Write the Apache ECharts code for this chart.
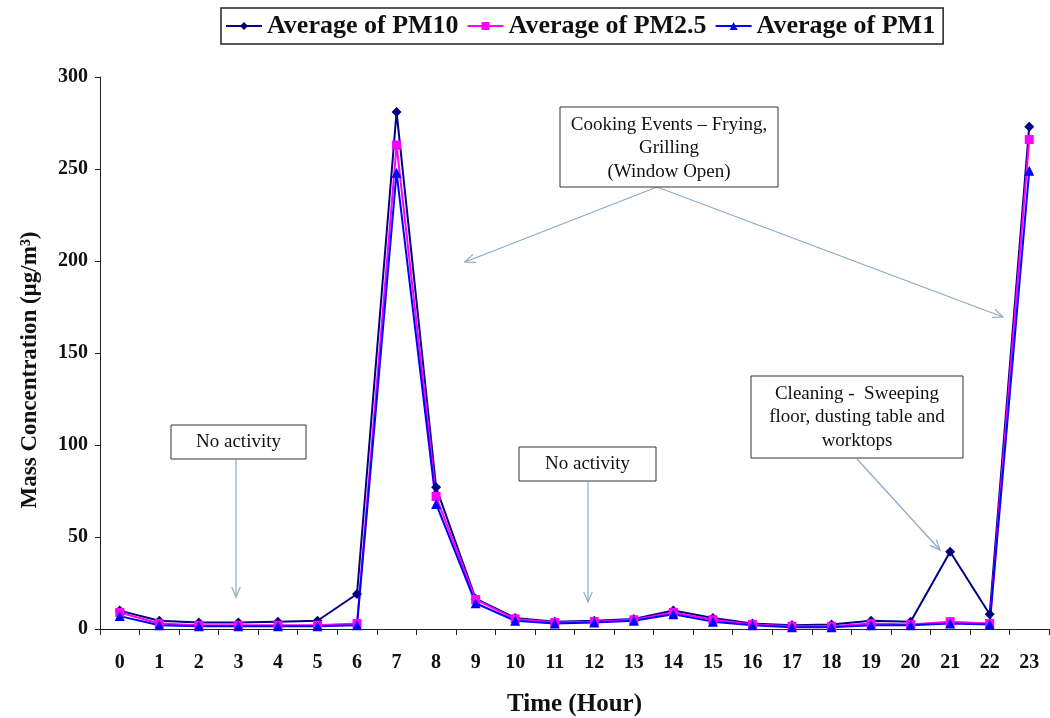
<!DOCTYPE html>
<html>
<head>
<meta charset="utf-8">
<script src="https://cdn.jsdelivr.net/npm/echarts@6/dist/echarts.min.js"></script>
<style>
  html, body { margin: 0; padding: 0; background: #fff; }
  #chart { width: 1050px; height: 718px; }
</style>
</head>
<body>
<div id="chart"></div>
<script>
// hours of the day
var hours = ['0','1','2','3','4','5','6','7','8','9','10','11','12','13','14','15','16','17','18','19','20','21','22','23'];
var pm10 = [10, 4.5, 3.5, 3.5, 4, 4.5, 19, 281, 77, 16.5, 6, 4, 4.5, 5.5, 10, 6, 3, 2, 2.5, 4.5, 4, 42, 8, 273];
var pm25 = [9, 3, 2, 2, 2, 2, 3, 263, 72, 16, 5.5, 3.5, 4, 5, 9, 5, 2.5, 1.5, 1.5, 3, 2.5, 4, 3, 266];
var pm1  = [7, 2, 1.5, 1.5, 1.5, 1.5, 2, 248, 68, 14, 4.5, 3, 3.5, 4.5, 8, 4, 2, 1, 1, 2, 2, 3, 2.5, 249];
var yTicks = {min: 0, max: 300, step: 50};

var serif = '"Liberation Serif", "DejaVu Serif", serif';
var arrowColor = '#8aaac4';

var chart = echarts.init(document.getElementById('chart'));

function box(x, y, w, h, lines, lh) {
  var kids = [{
    type: 'rect',
    shape: {x: x, y: y, width: w, height: h},
    style: {fill: '#fff', stroke: '#333', lineWidth: 1}
  }];
  var first = lines.length > 1 ? y + 18 : y + h / 2;
  lines.forEach(function (t, i) {
    kids.push({
      type: 'text',
      x: x + w / 2,
      y: first + i * lh,
      style: {text: t, fill: '#111', font: '19px ' + serif, align: 'center', verticalAlign: 'middle'}
    });
  });
  return {type: 'group', children: kids, z: 50};
}

function arrow(x1, y1, x2, y2) {
  var a = Math.atan2(y2 - y1, x2 - x1), len = 11, sp = 0.4;
  return {
    type: 'group', z: 40,
    children: [
      {type: 'line', shape: {x1: x1, y1: y1, x2: x2, y2: y2}, style: {stroke: arrowColor, lineWidth: 1.2}},
      {type: 'polyline', shape: {points: [
        [x2 - len * Math.cos(a - sp), y2 - len * Math.sin(a - sp)],
        [x2, y2],
        [x2 - len * Math.cos(a + sp), y2 - len * Math.sin(a + sp)]
      ]}, style: {stroke: arrowColor, lineWidth: 1.2, fill: null}}
    ]
  };
}

chart.setOption({
  backgroundColor: '#fff',
  animation: false,
  legend: {
    top: 8,
    left: 221,
    data: ['Average of PM10', 'Average of PM2.5', 'Average of PM1'],
    borderColor: '#222',
    borderWidth: 1.5,
    padding: [5, 8, 5, 4],
    itemGap: 8,
    itemWidth: 36,
    itemHeight: 10,
    textStyle: {fontFamily: serif, fontWeight: 'bold', fontSize: 26, color: '#111'}
  },
  grid: {left: 100, right: 1, top: 77, bottom: 89, containLabel: false, outerBoundsMode: 'none'},
  xAxis: {
    type: 'category',
    data: hours,
    name: 'Time (Hour)',
    nameLocation: 'middle',
    nameGap: 63,
    nameTextStyle: {fontFamily: serif, fontWeight: 'bold', fontSize: 25, color: '#111'},
    axisLine: {lineStyle: {color: '#222', width: 1}},
    axisTick: {show: true, length: 6, lineStyle: {color: '#222'}},
    axisLabel: {fontFamily: serif, fontWeight: 'bold', fontSize: 20, color: '#111', margin: 24}
  },
  yAxis: {
    type: 'value',
    min: yTicks.min,
    max: yTicks.max,
    interval: yTicks.step,
    name: 'Mass Concentration (µg/m³)',
    nameLocation: 'middle',
    nameGap: 58,
    nameTextStyle: {fontFamily: serif, fontWeight: 'bold', fontSize: 23, color: '#111', padding: [0, 34, 0, 0]},
    axisLine: {show: true, lineStyle: {color: '#222', width: 1}},
    axisTick: {show: true, length: 5, lineStyle: {color: '#222'}},
    splitLine: {show: false},
    axisLabel: {fontFamily: serif, fontWeight: 'bold', fontSize: 20, color: '#111', margin: 12}
  },
  series: [
    {
      name: 'Average of PM10', type: 'line', data: pm10,
      symbol: 'diamond', symbolSize: 10,
      itemStyle: {color: '#000080'},
      lineStyle: {color: '#000080', width: 2}
    },
    {
      name: 'Average of PM2.5', type: 'line', data: pm25,
      symbol: 'rect', symbolSize: 9,
      itemStyle: {color: '#ff00ff'},
      lineStyle: {color: '#ff00ff', width: 2}
    },
    {
      name: 'Average of PM1', type: 'line', data: pm1,
      symbol: 'triangle', symbolSize: 10,
      itemStyle: {color: '#0000ff'},
      lineStyle: {color: '#0000ff', width: 2}
    }
  ],
  graphic: [
    arrow(657, 187, 465, 262),
    arrow(657, 187, 1003, 317),
    arrow(236, 460, 236, 597),
    arrow(588, 482, 588, 602),
    arrow(857, 459, 940, 550),
    box(560, 107, 218, 80, ['Cooking Events \u2013 Frying,', 'Grilling', '(Window Open)'], 23.5),
    box(171, 425, 135, 34, ['No activity'], 23),
    box(519, 447, 137, 34, ['No activity'], 23),
    box(751, 376, 212, 82, ['Cleaning -  Sweeping', 'floor, dusting table and', 'worktops'], 23.5)
  ]
});
</script>
</body>
</html>
